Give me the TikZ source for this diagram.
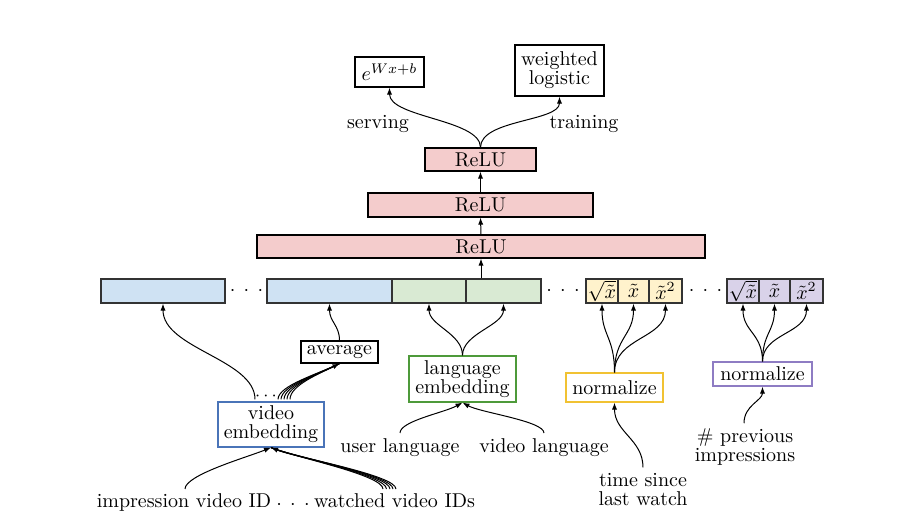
\documentclass[tikz,border=0pt]{standalone}
\usetikzlibrary{arrows.meta,calc}
\definecolor{relufill}{HTML}{F4CCCC}
\definecolor{bluefill}{HTML}{CFE2F3}
\definecolor{greenfill}{HTML}{D9EAD3}
\definecolor{yellowfill}{HTML}{FFF2CC}
\definecolor{purplefill}{HTML}{D9D2E9}
\definecolor{blueline}{HTML}{4A74B8}
\definecolor{greenline}{HTML}{4E9A3A}
\definecolor{yellowline}{HTML}{F1C232}
\definecolor{purpleline}{HTML}{8E7CC3}
\newcommand{\rowdots}{\ensuremath{\mathord{\cdot}\mkern7.5mu\mathord{\cdot}\mkern7.5mu\mathord{\cdot}}}
\begin{document}
\begin{tikzpicture}[x=0.5pt,y=0.5pt,
  box/.style={draw=black, line width=0.6pt, inner sep=0pt, align=center},
  relubox/.style={box, fill=relufill, minimum height=11.5pt},
  cell/.style={draw=black!80, line width=0.6pt, minimum height=12pt, inner sep=0pt},
  lbl/.style={inner sep=0pt, align=center},
  arr/.style={-{Latex[length=3.5pt,width=2.6pt]}, line width=0.5pt},
  ln/.style={line width=0.5pt}]
\useasboundingbox (0,0) rectangle (907,-524);

% top outputs
\node[box, minimum width=34.5pt, minimum height=15pt] (ebox) at (389.5,-72) {$e^{Wx+b}$};
\node[box, minimum width=44.5pt, minimum height=25.5pt] (wlog) at (559.5,-70.5) {weighted\\[-2.5pt]logistic};
\node[lbl] (serving) at (378,-124) {serving};
\node[lbl] (training) at (584,-124) {training};

% ReLU stack
\node[relubox, minimum width=55.5pt] (relut) at (480.5,-159.5) {ReLU};
\node[relubox, minimum width=112.5pt, minimum height=12pt] (relum) at (480.5,-205) {ReLU};
\node[relubox, minimum width=224pt] (relub) at (481,-246.5) {ReLU};

% embedding row
\node[cell, fill=bluefill, minimum width=62pt] (b1) at (163,-291) {};
\node[lbl] (d1) at (246.5,-291) {\rowdots};
\node[cell, fill=bluefill, minimum width=62.5pt] (b2) at (329.5,-291) {};
\node[cell, fill=greenfill, minimum width=37pt] (g1) at (429,-291) {};
\node[cell, fill=greenfill, minimum width=37.5pt] (g2) at (503.5,-291) {};
\node[lbl] (d2) at (563,-291) {\rowdots};
\node[cell, fill=yellowfill, minimum width=16pt] (y1) at (602,-291) {$\sqrt{\tilde{x}}$};
\node[cell, fill=yellowfill, minimum width=15.5pt] (y2) at (633.5,-291) {$\tilde{x}$};
\node[cell, fill=yellowfill, minimum width=16.5pt] (y3) at (665.5,-291) {$\tilde{x}^2$};
\node[lbl] (d3) at (705.5,-291) {\rowdots};
\node[cell, fill=purplefill, minimum width=16pt] (p1) at (743,-291) {$\sqrt{\tilde{x}}$};
\node[cell, fill=purplefill, minimum width=15.5pt] (p2) at (774.5,-291) {$\tilde{x}$};
\node[cell, fill=purplefill, minimum width=16.5pt] (p3) at (806.5,-291) {$\tilde{x}^2$};

% lower boxes
\node[box, minimum width=38.5pt, minimum height=11pt] (avg) at (339.5,-352) {average};
\node[box, draw=greenline, minimum width=53.5pt, minimum height=23pt] (lemb) at (462.5,-379) {language\\[-2.5pt]embedding};
\node[box, draw=blueline, minimum width=53pt, minimum height=22.5pt] (vemb) at (271,-424.5) {video\\[-2.5pt]embedding};
\node[lbl] (vdots) at (266,-396) {\small$\cdots$};
\node[box, draw=yellowline, minimum width=48.5pt, minimum height=14.5pt] (ynorm) at (614.5,-387.5) {normalize};
\node[box, draw=purpleline, minimum width=49.5pt, minimum height=12pt] (pnorm) at (762.5,-374) {normalize};

% bottom labels
\node[lbl, anchor=base] (imp) at (184,-508) {impression video ID};
\node[lbl] (bdots) at (293,-505) {\rowdots};
\node[lbl, anchor=base] (wat) at (394.5,-508) {watched video IDs};
\node[lbl, anchor=base] (ulang) at (400,-452) {user language};
\node[lbl, anchor=base] (vlang) at (544,-452) {video language};
\node[lbl] (tsl) at (643,-490) {time since\\[-2.5pt]last watch};
\node[lbl] (prev) at (745,-447) {\# previous\\[-2.5pt]impressions};

% connectors: top
\draw[arr] (relut.north) .. controls +(0,28) and +(0,-30) .. (ebox.south);
\draw[arr] (relut.north) .. controls +(0,28) and +(0,-25) .. (wlog.south);
\draw[arr] (relum.north) -- (relut.south);
\draw[arr] (relub.north) -- (relum.south);
\draw[arr] (g2.north -| relub.south) -- (relub.south);

% video embedding up
\draw[arr] ($(vemb.north)+(-16,2)$) .. controls +(0,40) and +(0,-45) .. (b1.south);
\foreach \o in {7,10,13,16} {
  \draw[ln] ($(vemb.north)+(\o,2)$) .. controls +(0,14) and +(-20,-10) .. (avg.south);
}
\draw[arr] ($(vemb.north)+(19,2)$) .. controls +(0,14) and +(-20,-10) .. (avg.south);
\draw[arr] (avg.north) .. controls +(0,15) and +(0,-18) .. (b2.south);

% language embedding up
\draw[arr] (lemb.north) .. controls +(0,22) and +(0,-22) .. (g1.south);
\draw[arr] (lemb.north) .. controls +(0,22) and +(0,-22) .. (g2.south);

% normalize up
\draw[arr] (ynorm.north) .. controls +(0,35) and +(0,-32) .. (y1.south);
\draw[arr] (ynorm.north) .. controls +(0,35) and +(0,-32) .. (y2.south);
\draw[arr] (ynorm.north) .. controls +(0,35) and +(0,-35) .. (y3.south);
\draw[arr] (pnorm.north) .. controls +(0,28) and +(0,-28) .. (p1.south);
\draw[arr] (pnorm.north) .. controls +(0,28) and +(0,-28) .. (p2.south);
\draw[arr] (pnorm.north) .. controls +(0,28) and +(0,-30) .. (p3.south);

% inputs
\draw[arr] ($(imp.base)+(1,19)$) .. controls +(0,14) and +(-25,-10) .. (vemb.south);
\foreach \o in {-11.5,-8,-4.5,-1.5} {
  \draw[ln] ($(wat.base)+(\o,19)$) .. controls +(0,14) and +(25,-10) .. (vemb.south);
}
\draw[arr] ($(wat.base)+(1.5,19)$) .. controls +(0,14) and +(25,-10) .. (vemb.south);
\draw[arr] ($(ulang.base)+(0,19)$) .. controls +(0,12) and +(-18,-10) .. (lemb.south);
\draw[arr] ($(vlang.base)+(0,19)$) .. controls +(0,12) and +(18,-10) .. (lemb.south);
\draw[arr] ($(tsl.north)+(0,6)$) .. controls +(0,28) and +(0,-30) .. (ynorm.south);
\draw[arr] ($(prev.north)+(-1,5)$) .. controls +(0,18) and +(0,-14) .. (pnorm.south);
\end{tikzpicture}
\end{document}
